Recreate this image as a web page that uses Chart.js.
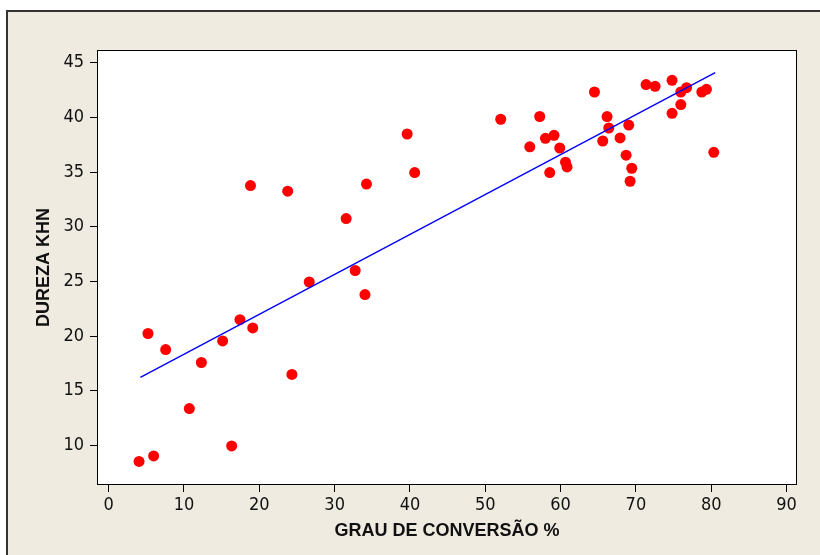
<!DOCTYPE html>
<html>
<head>
<meta charset="utf-8">
<script src="https://cdn.jsdelivr.net/npm/chart.js@4"></script>
<style>
html,body{margin:0;padding:0;background:#fff;}
canvas{display:block;}
</style>
</head>
<body>
<canvas id="c" width="820" height="555"></canvas>
<script>
// Data
const conversao = [4.03, 5.97, 5.22, 7.57, 10.71, 12.31, 15.13, 16.33, 17.43, 19.13,
  18.83, 23.77, 24.33, 26.63, 31.53, 32.73, 34.03, 34.23, 39.63, 40.63,
  52.05, 55.91, 57.23, 57.99, 59.13, 58.56, 59.89, 60.65, 60.86, 64.5,
  65.6, 66.17, 66.4, 67.9, 68.7, 69.05, 69.45, 69.23, 71.35, 72.55,
  74.8, 74.8, 75.96, 76.73, 75.96, 78.75, 79.37, 80.34];
const dureza = [8.54, 9.05, 20.24, 18.77, 13.38, 17.59, 19.56, 9.96, 21.5, 20.75,
  33.77, 33.25, 16.5, 24.95, 30.75, 26.0, 23.8, 33.9, 38.48, 34.95,
  39.83, 37.31, 40.08, 38.09, 38.36, 34.95, 37.2, 35.9, 35.47, 42.32,
  37.84, 40.07, 39.03, 38.12, 36.54, 39.3, 35.35, 34.16, 43.0, 42.84,
  43.39, 40.37, 42.32, 42.72, 41.17, 42.32, 42.57, 36.81];
const fitX = [4.21, 80.53];
const fitY = [16.24, 44.09];
const xTicks = [0, 10, 20, 30, 40, 50, 60, 70, 80, 90];
const yTicks = [10, 15, 20, 25, 30, 35, 40, 45];
const xTitle = 'GRAU DE CONVERSÃO %';
const yTitle = 'DUREZA KHN';

const points = conversao.map((x, i) => ({x: x, y: dureza[i]}));
const fitPts = fitX.map((x, i) => ({x: x, y: fitY[i]}));

const bgPlugin = {
  id: 'bg',
  beforeDraw(chart) {
    const ctx = chart.ctx;
    const W = chart.width, H = chart.height;
    ctx.save();
    ctx.fillStyle = '#ffffff';
    ctx.fillRect(0, 0, W, H);
    ctx.fillStyle = '#f0ebe1';
    ctx.fillRect(6, 10, W - 6, H - 10);
    ctx.fillStyle = '#333333';
    ctx.fillRect(6, 10, W - 6, 2);
    ctx.fillRect(6, 10, 2, H - 10);
    const a = chart.chartArea;
    ctx.fillStyle = '#ffffff';
    ctx.fillRect(a.left, a.top, a.right - a.left, a.bottom - a.top);
    ctx.restore();
  },
  afterDraw(chart) {
    const ctx = chart.ctx;
    const a = chart.chartArea;
    ctx.save();
    ctx.strokeStyle = '#000000';
    ctx.lineWidth = 1;
    ctx.strokeRect(Math.round(a.left) + 0.5, Math.round(a.top) + 0.5,
      Math.round(a.right - a.left) - 1, Math.round(a.bottom - a.top) - 1);
    ctx.restore();
  }
};

const tickFont = {family: '"DejaVu Sans Condensed", "DejaVu Sans", sans-serif', size: 18};
const titleFont = {family: '"Liberation Sans", Arial, sans-serif', size: 18, weight: 'bold', lineHeight: 1.2};

new Chart(document.getElementById('c'), {
  type: 'scatter',
  data: {
    datasets: [
      {
        type: 'line',
        data: fitPts,
        borderColor: '#0000ff',
        borderWidth: 1.4,
        pointRadius: 0,
        fill: false,
        tension: 0
      },
      {
        type: 'scatter',
        data: points,
        backgroundColor: '#ff0000',
        borderWidth: 0,
        pointRadius: 5.5,
        pointHoverRadius: 5.5
      }
    ]
  },
  options: {
    responsive: false,
    animation: false,
    events: [],
    layout: {padding: {top: 50, right: 23, left: 0, bottom: 0}},
    plugins: {legend: {display: false}, tooltip: {enabled: false}},
    scales: {
      x: {
        type: 'linear',
        min: -1.55,
        max: 91.39,
        afterBuildTicks(s) { s.ticks = xTicks.map(v => ({value: v})); },
        afterFit(s) { s.height = 70; },
        border: {display: false},
        grid: {display: true, drawOnChartArea: false, drawTicks: true, tickLength: 7, color: '#000000', lineWidth: 1},
        ticks: {color: '#111111', font: tickFont, padding: 3, maxRotation: 0, autoSkip: false},
        title: {display: true, text: xTitle, color: '#111111', font: titleFont, padding: {top: 0, bottom: 13}}
      },
      y: {
        type: 'linear',
        min: 6.39,
        max: 46.16,
        afterBuildTicks(s) { s.ticks = yTicks.map(v => ({value: v})); },
        afterFit(s) { s.width = 97; },
        border: {display: false},
        grid: {display: true, drawOnChartArea: false, drawTicks: true, tickLength: 7, color: '#000000', lineWidth: 1},
        ticks: {color: '#111111', font: tickFont, padding: 6, autoSkip: false},
        title: {display: true, text: yTitle, color: '#111111', font: titleFont, padding: {top: 33, bottom: 0}}
      }
    }
  },
  plugins: [bgPlugin]
});
</script>
</body>
</html>
